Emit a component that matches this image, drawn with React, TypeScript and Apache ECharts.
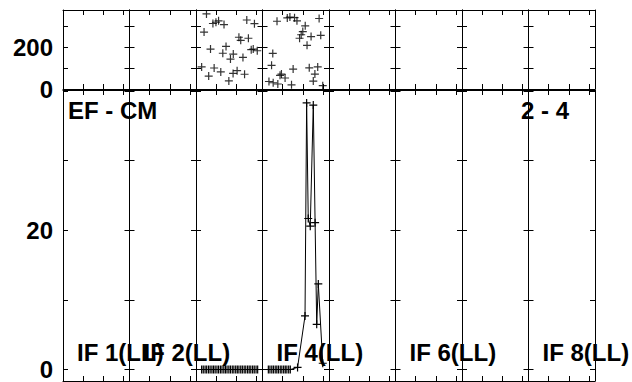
import React, { useEffect, useRef } from "react";
import * as echarts from "echarts";

// ---- data ----
const ifLabels = ["IF 1(LL)", "IF 2(LL)", "IF 4(LL)", "IF 6(LL)", "IF 8(LL)"];
const ifLabelPanels = [0, 1, 3, 5, 7];
const baselineLabel = "EF - CM";
const timeLabel = "2 - 4";
const phaseTickLabels = [0, 200];
const ampTickLabels = [0, 20];

// channel positions (33 channel slots per IF panel) and phases in degrees
const phaseX = [
  68.8, 70.0, 71.2, 72.3, 73.2, 74.4, 75.0, 75.9, 77.2, 78.3, 79.3, 79.9, 80.9, 82.3,
  83.1, 84.4, 84.5, 86.4, 87.3, 88.2, 89.3, 90.1, 91.2, 92.0, 93.4, 94.4, 95.0, 96.4,
  102.2, 103.5, 104.1, 104.3, 106.2, 106.6, 107.7, 108.4, 110.2, 111.3, 112.6, 113.4,
  114.2, 114.9, 116.1, 117.4, 118.2, 119.0, 120.2, 121.1, 122.2, 123.1, 124.2, 125.0,
  126.4, 127.1, 127.9, 128.9,
];
const phaseY = [
  106, 274, 361, 62, 192, 315, 101, 321, 328, 82, 172, 310, 205, 39,
  144, 75, 168, 88, 249, 234, 152, 71, 332, 244, 189, 192, 314, 184,
  36, 114, 171, 30, 326, 24, 66, 72, 53, 342, 346, 20,
  96, 343, 328, 244, 261, 276, 304, 210, 102, 252, 38, 72,
  106, 339, 258, 16,
];

// amplitude samples
const ampX = [
  68.8, 69.6, 70.5, 71.3, 72.2, 73.0, 73.9, 74.7, 75.5, 76.4, 77.2, 78.1, 78.9, 79.8,
  80.6, 81.4, 82.3, 83.1, 84.0, 84.8, 85.7, 86.5, 87.3, 88.2, 89.0, 89.9, 90.7, 91.6,
  92.4, 93.2, 94.1, 94.9, 95.8, 96.6,
  101.9, 102.7, 103.6, 104.4, 105.3, 106.1, 106.9, 107.8, 108.6, 109.5, 110.3, 111.1,
  112.0, 112.8,
  116.4, 120.1, 120.9, 121.7, 122.7, 124.2, 125.1, 125.9, 126.7, 128.9,
];
const ampY = [
  0, 0, 0, 0, 0, 0, 0, 0, 0, 0, 0, 0, 0, 0,
  0, 0, 0, 0, 0, 0, 0, 0, 0, 0, 0, 0, 0, 0,
  0, 0, 0, 0, 0, 0,
  0, 0, 0, 0, 0, 0, 0, 0, 0, 0, 0, 0,
  0, 0,
  0.3, 7.7, 38.3, 21.7, 20.6, 38.0, 21.1, 6.5, 12.3, 0.9,
];

// ---- layout ----
const PANELS = 8;
const CH = 33;
const LEFT = 63;
const WIDTH = 532;
const PW = WIDTH / PANELS;
const FONT = "Liberation Sans, Arial, sans-serif";
const FS = 24;
const CROSS = "path://M0,3.4H8V4.6H0Z M3.4,0H4.6V8H3.4Z";

const rows = [
  { top: 10, height: 79, min: 0, max: 380, interval: 100, labels: phaseTickLabels },
  { top: 90, height: 291, min: -1.65, max: 40.16, interval: 0, labels: ampTickLabels },
];

export default function App() {
  const ref = useRef<HTMLDivElement>(null);
  useEffect(() => {
    document.body.style.margin = "0";
    if (!ref.current) return;
    const chart = echarts.init(ref.current, undefined, { renderer: "svg" });

    const grid: any[] = [];
    const xAxis: any[] = [];
    const yAxis: any[] = [];
    const line = { show: true, onZero: false, lineStyle: { color: "#000", width: 1 } };
    const tick = { show: true, inside: true, length: 5, lineStyle: { color: "#000", width: 1 } };

    rows.forEach((row) => {
      for (let k = 0; k < PANELS; k++) {
        const gi = grid.length;
        grid.push({ left: LEFT + k * PW, top: row.top, width: PW, height: row.height });
        ["bottom", "top"].forEach((pos) =>
          xAxis.push({
            gridIndex: gi, type: "value", position: pos, min: 0, max: CH, interval: 10,
            axisLine: line, axisTick: tick, axisLabel: { show: false }, splitLine: { show: false },
          })
        );
        ["left", "right"].forEach((pos) =>
          yAxis.push({
            gridIndex: gi, type: "value", position: pos, min: row.min, max: row.max,
            ...(row.interval ? { interval: row.interval } : { minInterval: 10, maxInterval: 10, splitNumber: 4 }),
            axisLine: line, axisTick: tick, splitLine: { show: false },
            axisLabel: {
              show: k === 0 && pos === "left",
              margin: 10,
              color: "#000",
              fontFamily: FONT,
              fontWeight: "bold",
              fontSize: FS,
              formatter: (v: number) =>
                row.labels.some((l) => Math.abs(l - v) < 1e-6) ? String(Math.round(v)) : "",
            },
          })
        );
      }
    });

    const dataAxisStart = xAxis.length;
    rows.forEach((row) => {
      const gi = grid.length;
      grid.push({ left: LEFT, top: row.top, width: WIDTH, height: row.height });
      xAxis.push({ gridIndex: gi, type: "value", min: 0, max: CH * PANELS, show: false });
      yAxis.push({ gridIndex: gi, type: "value", min: row.min, max: row.max, show: false });
    });

    const txt = (text: string, x: number, y: number) => ({
      type: "text", z: 0,
      style: {
        text, x, y, font: `bold ${FS}px ${FONT}`, fill: "#000",
        align: "left", verticalAlign: "middle", textAlign: "left", textVerticalAlign: "middle",
      },
    });
    const graphic: any[] = ifLabels.map((t, i) => txt(t, LEFT + ifLabelPanels[i] * PW + 14, 352));
    graphic.push(txt(baselineLabel, 68, 110));
    graphic.push(txt(timeLabel, 521, 110));

    chart.setOption({
      animation: false,
      backgroundColor: "#fff",
      grid, xAxis, yAxis, graphic,
      series: [
        {
          type: "scatter",
          xAxisIndex: dataAxisStart, yAxisIndex: dataAxisStart,
          data: phaseX.map((x, i) => [x, phaseY[i]]),
          symbol: CROSS, symbolSize: 8,
          itemStyle: { color: "#000" },
          z: 5,
        },
        {
          type: "line",
          xAxisIndex: dataAxisStart + 1, yAxisIndex: dataAxisStart + 1,
          data: ampX.map((x, i) => [x, ampY[i]]),
          symbol: CROSS, symbolSize: 8, showSymbol: true,
          lineStyle: { color: "#000", width: 1 },
          itemStyle: { color: "#000" },
          z: 5,
        },
      ],
    });
    return () => chart.dispose();
  }, []);
  return <div ref={ref} style={{ width: 632, height: 382 }} />;
}
